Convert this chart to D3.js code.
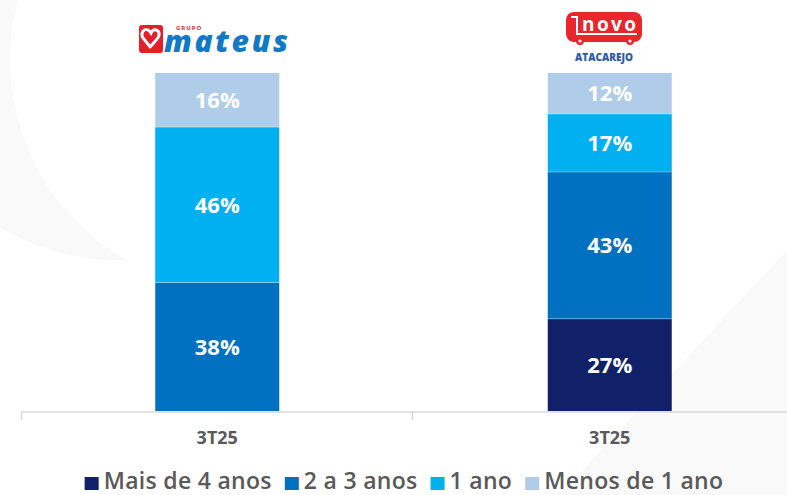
<!DOCTYPE html>
<html>
<head>
<meta charset="utf-8">
<script src="https://cdn.jsdelivr.net/npm/d3@7"></script>
<style>
  body { margin: 0; background: #fff; }
  svg { display: block; font-family: "Open Sans", sans-serif; }
</style>
</head>
<body>
<div id="container"></div>
<script>
/* CONSTANTS AND GLOBALS */
const width = 787,
  height = 495,
  margin = { top: 73, bottom: 84, left: 21, right: 0 }

/* DATA */
const companies = ["Grupo Mateus", "Novo Atacarejo"]
const tickLabels = ["3T25", "3T25"]
const seriesNames = ["Mais de 4 anos", "2 a 3 anos", "1 ano", "Menos de 1 ano"]
const maisDe4 = [0, 27]
const doisA3 = [38, 43]
const umAno = [46, 17]
const menosDe1 = [16, 12]
const colors = ["#10216a", "#0070c0", "#00b0f0", "#afcde8"]

const rows = companies.map((c, i) => ({
  company: c,
  "Mais de 4 anos": maisDe4[i],
  "2 a 3 anos": doisA3[i],
  "1 ano": umAno[i],
  "Menos de 1 ano": menosDe1[i]
}))

const svg = d3.select("#container")
  .append("svg")
  .attr("width", width)
  .attr("height", height)

/* faint background shapes */
svg.append("circle")
  .attr("cx", 120).attr("cy", 20).attr("r", 240)
  .attr("fill", "#f9f9f9")
svg.append("circle")
  .attr("cx", 240).attr("cy", 60).attr("r", 230)
  .attr("fill", "#ffffff")
svg.append("path")
  .attr("d", "M560,495 L787,250 L787,495 Z")
  .attr("fill", "#f9f9f9")

const xScale = d3.scaleBand()
  .domain(companies)
  .range([margin.left, 806])
  .padding(0)

const barWidth = 124

const yScale = d3.scaleLinear()
  .domain([0, 1])
  .range([height - margin.bottom, margin.top])

const colorScale = d3.scaleOrdinal()
  .domain(seriesNames)
  .range(colors)

const stack = d3.stack()
  .keys(seriesNames)
  .offset(d3.stackOffsetExpand)

const series = stack(rows)

/* bars */
const layers = svg.selectAll("g.layer")
  .data(series)
  .join("g")
  .attr("class", "layer")
  .attr("fill", d => colorScale(d.key))

layers.selectAll("rect")
  .data(d => d.filter(p => p[1] - p[0] > 0))
  .join("rect")
  .attr("x", d => xScale(d.data.company) + xScale.bandwidth() / 2 - barWidth / 2)
  .attr("width", barWidth)
  .attr("y", d => yScale(d[1]))
  .attr("height", d => yScale(d[0]) - yScale(d[1]))

/* thin separators between segments */
layers.selectAll("line.sep")
  .data(d => d.filter(p => p[1] - p[0] > 0 && p[0] > 0))
  .join("line")
  .attr("class", "sep")
  .attr("x1", d => xScale(d.data.company) + xScale.bandwidth() / 2 - barWidth / 2)
  .attr("x2", d => xScale(d.data.company) + xScale.bandwidth() / 2 + barWidth / 2)
  .attr("y1", d => yScale(d[0]))
  .attr("y2", d => yScale(d[0]))
  .attr("stroke", "#ffffff")
  .attr("stroke-opacity", 0.35)
  .attr("stroke-width", 1)

/* labels in bars */
layers.selectAll("text")
  .data(d => d.filter(p => p[1] - p[0] > 0).map(p => ({ p, key: d.key })))
  .join("text")
  .attr("x", d => xScale(d.p.data.company) + xScale.bandwidth() / 2)
  .attr("y", d => (yScale(d.p[0]) + yScale(d.p[1])) / 2 + 8)
  .attr("text-anchor", "middle")
  .attr("fill", "#ffffff")
  .attr("font-size", "22px")
  .attr("font-weight", 700)
  .text(d => d.p.data[d.key] + "%")

/* x axis */
const xAxis = d3.axisBottom(xScale)
  .tickSize(0)
  .tickPadding(20)
  .tickFormat((d, i) => tickLabels[i])

const axisG = svg.append("g")
  .attr("class", "x-axis")
  .attr("transform", `translate(0, ${height - margin.bottom + 0.5})`)
  .call(xAxis)

axisG.select(".domain")
  .attr("stroke", "#d9d9d9")
  .attr("stroke-width", 1.5)

axisG.selectAll(".tick text")
  .attr("fill", "#595959")
  .attr("font-size", "18px")
  .attr("font-weight", 700)
  .attr("font-family", "Open Sans, sans-serif")

axisG.selectAll("line.sep-tick")
  .data(companies)
  .join("line")
  .attr("class", "sep-tick")
  .attr("x1", d => xScale(d) + (d === companies[0] ? 0.5 : -1))
  .attr("x2", d => xScale(d) + (d === companies[0] ? 0.5 : -1))
  .attr("y1", 0)
  .attr("y2", 9)
  .attr("stroke", "#d9d9d9")
  .attr("stroke-width", 1.5)

/* legend */
const legend = svg.append("g").attr("class", "legend")
const legendItems = legend.selectAll("g")
  .data(seriesNames)
  .join("g")

legendItems.append("rect")
  .attr("width", 14)
  .attr("height", 13)
  .attr("y", 477)
  .attr("fill", d => colorScale(d))

legendItems.append("text")
  .attr("x", 19)
  .attr("y", 489)
  .attr("fill", "#595959")
  .attr("font-size", "23px")
  .attr("font-weight", 600)
  .attr("letter-spacing", "0.3px")
  .text(d => d)

let cursor = 0
const offsets = []
legendItems.each(function () {
  offsets.push(cursor)
  const w = d3.select(this).select("text").node().getComputedTextLength()
  cursor += 19 + w + 13
})
const totalW = cursor - 13
const startX = 404 - totalW / 2
legendItems.attr("transform", (d, i) => `translate(${startX + offsets[i]}, 0)`)

/* logos */
const mateus = svg.append("g").attr("class", "logo-mateus")
mateus.append("rect")
  .attr("x", 139).attr("y", 25).attr("width", 24).attr("height", 28).attr("rx", 3)
  .attr("fill", "#e41e2b")
mateus.append("path")
  .attr("d", "M151,48 L143,38 C140,33 144,28 148,30 C150,31 151,33 151,33 C151,33 153,29 156,30 C160,31 160,36 157,39 L151,46")
  .attr("fill", "none").attr("stroke", "#ffffff").attr("stroke-width", 3)
mateus.append("text")
  .attr("x", 176).attr("y", 30)
  .attr("fill", "#e41e2b").attr("font-size", "6px").attr("font-weight", 700)
  .attr("letter-spacing", "1px")
  .text("GRUPO")
mateus.append("text")
  .attr("x", 164).attr("y", 52)
  .attr("fill", "#1279c6").attr("font-size", "30px").attr("font-weight", 800)
  .attr("font-style", "italic").attr("letter-spacing", "-2px")
  .attr("textLength", 122)
  .text("mateus")

const novo = svg.append("g").attr("class", "logo-novo")
novo.append("rect")
  .attr("x", 566).attr("y", 12).attr("width", 76).attr("height", 30).attr("rx", 8)
  .attr("fill", "#e8262c")
novo.append("circle").attr("cx", 580).attr("cy", 41).attr("r", 4).attr("fill", "#e8262c")
novo.append("circle").attr("cx", 630).attr("cy", 41).attr("r", 4).attr("fill", "#e8262c")
novo.append("circle").attr("cx", 580).attr("cy", 41).attr("r", 1.6).attr("fill", "#fff")
novo.append("circle").attr("cx", 630).attr("cy", 41).attr("r", 1.6).attr("fill", "#fff")
novo.append("path")
  .attr("d", "M571,17 L577,17 L577,34 L637,34")
  .attr("fill", "none").attr("stroke", "#ffffff").attr("stroke-width", 2)
novo.append("text")
  .attr("x", 582).attr("y", 31)
  .attr("fill", "#ffffff").attr("font-size", "19px").attr("font-weight", 700)
  .attr("textLength", 54)
  .text("novo")
novo.append("text")
  .attr("x", 604).attr("y", 61)
  .attr("text-anchor", "middle")
  .attr("fill", "#2d5aa6").attr("font-size", "10px").attr("font-weight", 800)
  .text("ATACAREJO")
</script>
</body>
</html>
